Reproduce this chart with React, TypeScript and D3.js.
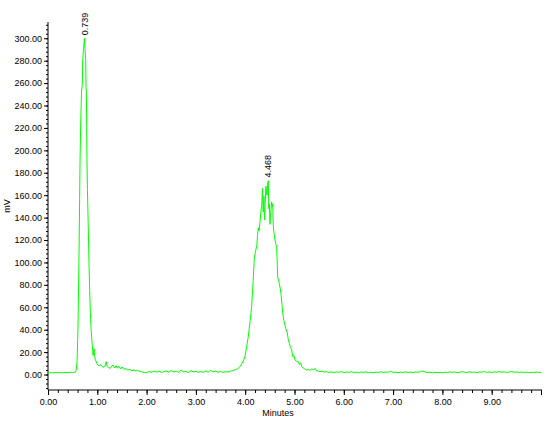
import React, { useRef, useEffect } from 'react';
import * as d3 from 'd3';

// retention time (minutes) and detector signal (mV)
const times = [
  0.00, 0.05, 0.10, 0.15, 0.20, 0.25, 0.30, 0.35, 0.40, 0.45, 0.50, 0.55,
  0.57, 0.59, 0.61, 0.63, 0.65, 0.665, 0.68, 0.695, 0.705, 0.72, 0.739, 0.75,
  0.765, 0.772, 0.778, 0.785, 0.79, 0.80, 0.815, 0.83, 0.845, 0.86, 0.875, 0.89,
  0.905, 0.915, 0.925, 0.935, 0.945, 0.96, 0.975, 0.99, 1.01, 1.04, 1.07, 1.10,
  1.13, 1.16, 1.18, 1.20, 1.23, 1.26, 1.29, 1.32, 1.35, 1.38, 1.41, 1.44,
  1.47, 1.50, 1.54, 1.58, 1.62, 1.66, 1.70, 1.74, 1.78, 1.82, 1.86, 1.90,
  1.95, 2.00, 2.05, 2.10, 2.15, 2.20, 2.25, 2.30, 2.35, 2.40, 2.45, 2.50,
  2.55, 2.60, 2.65, 2.70, 2.75, 2.80, 2.85, 2.90, 2.95, 3.00, 3.05, 3.10,
  3.15, 3.20, 3.25, 3.30, 3.35, 3.40, 3.45, 3.50, 3.55, 3.60, 3.65, 3.70,
  3.75, 3.80, 3.85, 3.89, 3.93, 3.97, 4.00, 4.03, 4.06, 4.10, 4.13, 4.16,
  4.185, 4.21, 4.235, 4.25, 4.265, 4.28, 4.30, 4.32, 4.335, 4.35, 4.365, 4.38,
  4.39, 4.40, 4.42, 4.44, 4.456, 4.468, 4.478, 4.49, 4.503, 4.52, 4.537, 4.55,
  4.558, 4.57, 4.585, 4.604, 4.62, 4.639, 4.659, 4.675, 4.692, 4.71, 4.726, 4.745,
  4.761, 4.785, 4.807, 4.83, 4.854, 4.875, 4.894, 4.92, 4.943, 4.965, 4.99, 5.01,
  5.04, 5.077, 5.10, 5.125, 5.146, 5.17, 5.20, 5.247, 5.28, 5.31, 5.35, 5.39,
  5.416, 5.45, 5.49, 5.517, 5.55, 5.60, 5.65, 5.70, 5.75, 5.80, 5.85, 5.90,
  5.95, 6.00, 6.05, 6.10, 6.15, 6.20, 6.25, 6.30, 6.35, 6.40, 6.45, 6.50,
  6.55, 6.60, 6.65, 6.70, 6.75, 6.80, 6.85, 6.90, 6.95, 7.00, 7.05, 7.10,
  7.15, 7.20, 7.25, 7.30, 7.35, 7.40, 7.45, 7.50, 7.55, 7.60, 7.65, 7.70,
  7.75, 7.80, 7.85, 7.90, 7.95, 8.00, 8.05, 8.10, 8.15, 8.20, 8.25, 8.30,
  8.35, 8.40, 8.45, 8.50, 8.55, 8.60, 8.65, 8.70, 8.75, 8.80, 8.85, 8.90,
  8.95, 9.00, 9.05, 9.10, 9.15, 9.20, 9.25, 9.30, 9.35, 9.40, 9.45, 9.50,
  9.55, 9.60, 9.65, 9.70, 9.75, 9.80, 9.85, 9.90, 9.95, 10.0,
];

const signal = [
  1.4, 1.7, 1.5, 1.9, 1.6, 1.8, 1.5, 2.0, 1.7, 2.1, 1.8, 2.3,
  3.5, 12, 45, 110, 190, 228, 253, 258, 281, 290, 300, 291,
  281, 256, 253, 222, 192, 165, 135, 103, 75, 55, 40, 30,
  22, 17, 20, 23, 17, 13, 12, 10, 8.5, 7.8, 8.8, 6.9,
  6.4, 8.2, 11.5, 7.0, 6.3, 5.4, 7.2, 8.6, 5.8, 7.9, 5.6, 7.4,
  5.1, 6.8, 4.6, 5.4, 3.9, 4.7, 3.3, 4.2, 3.1, 3.8, 2.7, 2.4,
  1.8, 1.6, 2.7, 2.1, 3.1, 2.2, 2.9, 1.9, 2.5, 3.2, 2.2, 3.6,
  2.3, 3.0, 2.0, 3.9, 2.4, 2.7, 1.8, 3.5, 2.2, 2.9, 2.0, 2.7,
  1.9, 3.3, 2.1, 3.7, 2.4, 3.0, 2.0, 2.8, 1.9, 2.5, 2.2, 3.1,
  3.3, 4.4, 5.2, 7.0, 9.5, 13, 17, 25, 33, 48, 60, 82,
  104, 110, 115, 124, 131, 128, 136, 146, 151, 166, 145, 159,
  138, 146, 168, 160, 170, 173, 148, 152, 134, 145, 154, 150,
  152, 132, 126, 120, 117, 113, 87, 84, 81, 77, 72, 63,
  55, 48, 44, 40, 37, 31, 28, 24, 22, 16, 17, 13,
  12, 11.4, 9, 10.5, 7, 6.1, 5.2, 4, 4.8, 3.6, 5.0, 4.1,
  5.5, 3.2, 3.0, 2.5, 3.1, 2.2, 2.6, 1.9, 2.4, 1.8, 2.3, 2.0,
  2.6, 1.7, 2.2, 1.9, 2.5, 1.8, 2.1, 1.6, 2.3, 1.9, 2.4, 1.7,
  2.0, 1.6, 2.2, 1.8, 2.5, 1.9, 2.3, 2.0, 2.9, 1.8, 2.2, 1.7,
  2.1, 1.9, 2.4, 1.8, 2.2, 1.7, 2.3, 1.9, 2.6, 3.1, 2.2, 1.8,
  2.1, 1.6, 2.0, 1.7, 1.9, 1.6, 2.1, 1.8, 2.4, 1.9, 2.3, 1.7,
  2.0, 2.6, 2.1, 1.8, 2.5, 2.0, 2.2, 1.7, 2.4, 2.1, 2.7, 1.9,
  2.3, 1.8, 2.5, 2.0, 2.6, 2.1, 2.4, 1.8, 2.2, 2.7, 2.0, 2.3,
  1.9, 2.2, 1.8, 2.1, 1.7, 2.0, 1.8, 2.2, 1.9, 2.0,
];

const peakTimes = [0.739, 4.468];
const peakHeights = [300, 173];
const peakLabels = ['0.739', '4.468'];

const yMajorTicks = d3.range(0, 301, 20);
const xMajorTicks = d3.range(0, 11, 1);

const FONT = '"Liberation Sans", Arial, sans-serif';

function Chromatogram() {
  const svgRef = useRef(null);

  useEffect(() => {
    if (!svgRef.current) return;
    const svg = d3.select(svgRef.current);
    svg.selectAll('*').remove();

    const x = d3.scaleLinear().domain([0, 10]).range([48, 541]);
    const y = d3.scaleLinear().domain([-13.8, 314.5]).range([390, 22]);

    // y axis: minor ticks every 4 mV, labelled majors every 20
    svg.append('g')
      .attr('transform', 'translate(48,0)')
      .call(d3.axisLeft(y).tickValues(d3.range(-12, 314, 4)).tickSize(2).tickSizeOuter(0).tickFormat(() => ''))
      .call(g => g.select('.domain').remove());

    const yAxis = svg.append('g')
      .attr('transform', 'translate(48,0)')
      .call(d3.axisLeft(y).tickValues(yMajorTicks).tickSize(4).tickSizeOuter(0).tickPadding(2).tickFormat(d3.format('.2f')));
    yAxis.select('.domain').remove();

    // x axis: minor ticks every 0.2 min
    svg.append('g')
      .attr('transform', 'translate(0,390)')
      .call(d3.axisBottom(x).tickValues(d3.range(0, 10, 0.2)).tickSize(3).tickSizeOuter(0).tickFormat(() => ''))
      .call(g => g.select('.domain').remove());

    const xAxis = svg.append('g')
      .attr('transform', 'translate(0,390)')
      .call(d3.axisBottom(x).tickValues(xMajorTicks).tickSize(5).tickSizeOuter(0).tickPadding(4)
        .tickFormat(d => (+d < 10 ? d3.format('.2f')(+d) : '')));
    xAxis.select('.domain').remove();

    svg.selectAll('g.tick text')
      .attr('font-family', FONT)
      .attr('font-size', 9)
      .attr('fill', '#000');
    svg.selectAll('g.tick line').attr('stroke', '#000');

    // axis lines
    svg.append('line').attr('x1', 48).attr('x2', 48).attr('y1', 22).attr('y2', 390).attr('stroke', '#000');
    svg.append('line').attr('x1', 48).attr('x2', 542).attr('y1', 390).attr('y2', 390).attr('stroke', '#000');

    // trace
    const pts = times.map((t, i) => [t, signal[i]] as [number, number]);
    const line = d3.line<[number, number]>().x(d => x(d[0])).y(d => y(d[1]));
    svg.append('path')
      .datum(pts)
      .attr('d', line)
      .attr('fill', 'none')
      .attr('stroke', '#00ff00')
      .attr('stroke-width', 1);

    // peak retention-time labels
    svg.selectAll('.peak-label')
      .data(peakTimes)
      .enter().append('text')
      .attr('class', 'peak-label')
      .attr('transform', (d, i) => `translate(${x(d)},${y(peakHeights[i]) - 3}) rotate(-90)`)
      .attr('dy', '0.35em')
      .attr('font-family', FONT)
      .attr('font-size', 9)
      .attr('fill', '#000')
      .text((_, i) => peakLabels[i]);

    svg.append('text')
      .attr('x', 278)
      .attr('y', 416)
      .attr('text-anchor', 'middle')
      .attr('font-family', FONT)
      .attr('font-size', 9)
      .text('Minutes');

    svg.append('text')
      .attr('transform', 'translate(10,206) rotate(-90)')
      .attr('text-anchor', 'middle')
      .attr('font-family', FONT)
      .attr('font-size', 9)
      .text('mV');
  }, []);

  return (
    <svg ref={svgRef} width={550} height={427}
      style={{ position: 'absolute', left: 0, top: 0, background: '#fff' }} />
  );
}

export default function App() {
  return <Chromatogram />;
}
